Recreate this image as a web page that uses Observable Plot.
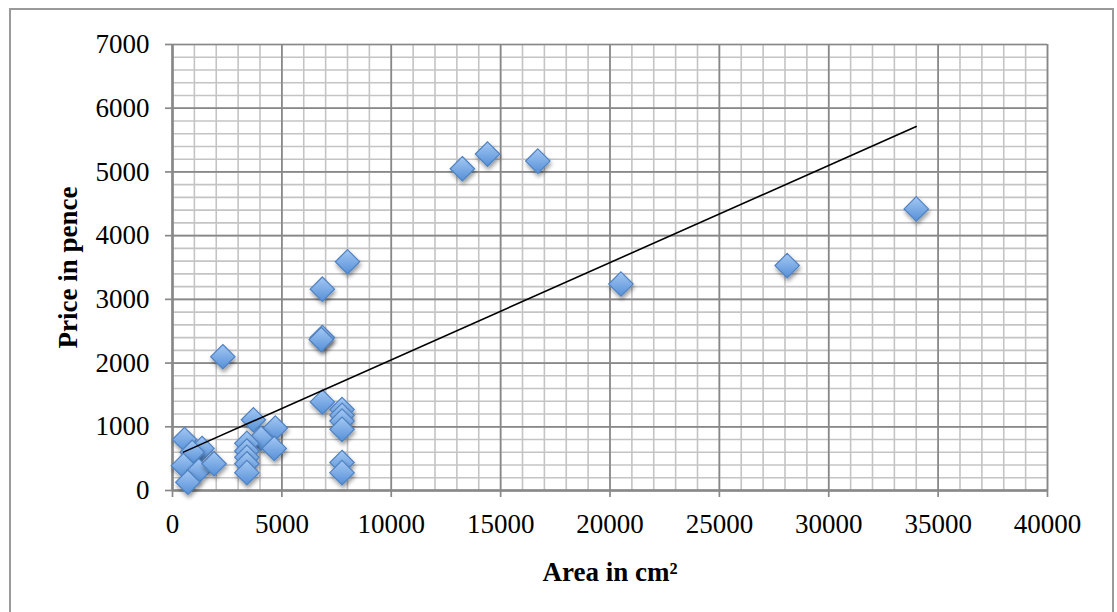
<!DOCTYPE html>
<html>
<head>
<meta charset="utf-8">
<script src="https://cdn.jsdelivr.net/npm/d3@7"></script>
<script src="https://cdn.jsdelivr.net/npm/@observablehq/plot@0.6"></script>
<style>
  html, body { margin: 0; padding: 0; background: #fff; }
  #wrap { position: relative; width: 1117px; height: 612px; overflow: hidden; }
  #frame { position: absolute; left: 9px; top: 8px; width: 1105px; height: 700px;
           border: 2px solid #9a9a9a; box-sizing: border-box; pointer-events: none; }
  svg { font-family: "Liberation Serif", "DejaVu Serif", serif; }
</style>
</head>
<body>
<div id="wrap"><div id="frame"></div></div>
<script>
// Data
const area  = [14400, 13250, 16700, 34000, 28100, 20500, 8000, 6850, 6850, 6800,
               2300, 6850, 7750, 7750, 7750, 7750, 7750, 7750,
               3700, 4700, 4050, 4650, 3400, 3400, 3400, 3400, 3400,
               550, 1350, 900, 500, 1200, 1900, 700];
const price = [5280, 5050, 5170, 4420, 3530, 3240, 3590, 3160, 2400, 2370,
               2100, 1390, 1270, 1180, 1090, 960, 440, 280,
               1110, 980, 820, 660, 740, 620, 520, 420, 280,
               800, 660, 600, 390, 310, 420, 130];
const xTicks = [0, 5000, 10000, 15000, 20000, 25000, 30000, 35000, 40000];
const yTicks = [0, 1000, 2000, 3000, 4000, 5000, 6000, 7000];
const xMinor = d3.range(0, 40001, 1000);
const yMinor = d3.range(0, 7001, 200);
const xTitle = "Area in cm²";
const yTitle = "Price in pence";

const data = area.map((a, i) => ({area: a, price: price[i]}));

const chart = Plot.plot({
  width: 1117,
  height: 612,
  marginLeft: 172,
  marginRight: 70,
  marginTop: 44,
  marginBottom: 122,
  style: {fontFamily: "'Liberation Serif', serif", fontSize: "27px", color: "#000", background: "transparent"},
  x: {domain: [0, 40000], ticks: xTicks, tickFormat: d => String(d), label: null},
  y: {domain: [0, 7000], ticks: yTicks, tickFormat: d => String(d), label: null},
  marks: [
    Plot.gridX(xMinor, {stroke: "#c4c4c4", strokeOpacity: 1, strokeWidth: 1.6}),
    Plot.gridY(yMinor, {stroke: "#c4c4c4", strokeOpacity: 1, strokeWidth: 1.6}),
    Plot.gridX(xTicks, {stroke: "#888", strokeOpacity: 1, strokeWidth: 1.7}),
    Plot.gridY(yTicks, {stroke: "#888", strokeOpacity: 1, strokeWidth: 1.7}),
    Plot.axisX(xTicks, {tickSize: 7, tickPadding: 16, stroke: "#888", strokeWidth: 1.7, fontSize: 27, fill: "#000", tickFormat: d => String(d), label: null}),
    Plot.axisY(yTicks, {tickSize: 7, tickPadding: 16, stroke: "#888", strokeWidth: 1.7, fontSize: 27, fill: "#000", tickFormat: d => String(d), label: null}),
    Plot.ruleY([0], {stroke: "#888", strokeWidth: 2.5}),
    Plot.ruleX([0], {stroke: "#888", strokeWidth: 2.5}),
    Plot.dot(data, {x: "area", y: "price", symbol: "diamond2", r: 11, fill: "#75a7e3", stroke: "#4f82c2", strokeWidth: 1.2}),
    Plot.linearRegressionY(data, {x: "area", y: "price", stroke: "#000", strokeWidth: 1.6, ci: 0}),
    Plot.text([xTitle], {frameAnchor: "bottom", dy: 82, fontWeight: "bold", fontSize: 27, fill: "#000", lineAnchor: "middle"}),
    Plot.text([yTitle], {frameAnchor: "left", dx: -104, rotate: -90, textAnchor: "middle", fontWeight: "bold", fontSize: 27, fill: "#000", lineAnchor: "middle"})
  ]
});

// gradient + shadow styling on diamonds
const svg = d3.select(chart);
const defs = svg.insert("defs", ":first-child");
const g = defs.append("linearGradient").attr("id", "dg").attr("x1", "0").attr("y1", "0").attr("x2", "0").attr("y2", "1");
g.append("stop").attr("offset", "0%").attr("stop-color", "#a4c8f3");
g.append("stop").attr("offset", "100%").attr("stop-color", "#5690d8");
const f = defs.append("filter").attr("id", "sh").attr("x", "-50%").attr("y", "-50%").attr("width", "200%").attr("height", "200%");
f.append("feDropShadow").attr("dx", 1).attr("dy", 3).attr("stdDeviation", 2).attr("flood-color", "#000").attr("flood-opacity", 0.4);
svg.selectAll("g[aria-label=dot] path").attr("fill", "url(#dg)").attr("filter", "url(#sh)");

document.getElementById("wrap").prepend(chart);
</script>
</body>
</html>
